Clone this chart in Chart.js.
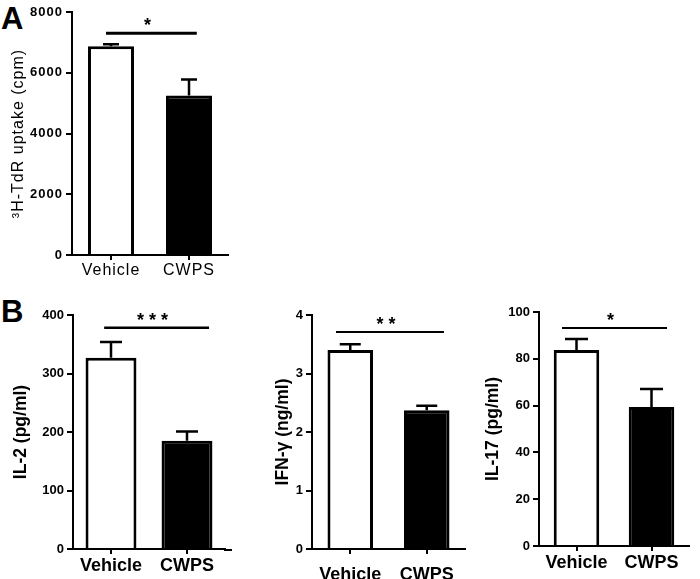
<!DOCTYPE html>
<html>
<head>
<meta charset="utf-8">
<script src="https://cdn.jsdelivr.net/npm/chart.js@4.4.0/dist/chart.umd.min.js"></script>
<style>
  body { margin: 0; background: #fff; }
  #wrap { position: relative; width: 700px; height: 579px; overflow: hidden; background: #fff; }
  canvas { position: absolute; }
  .panel-letter { position: absolute; font: bold 31px 'Liberation Sans', Arial, sans-serif; color: #000; line-height: 1; }
</style>
</head>
<body>
<div id="wrap">
  <div class="panel-letter" style="left:1px;top:3px">A</div>
  <div class="panel-letter" style="left:1px;top:296px">B</div>
  <canvas id="uptakeChart" width="240" height="290" style="left:0;top:0"></canvas>
  <canvas id="il2Chart" width="240" height="284" style="left:0;top:295px"></canvas>
  <canvas id="ifnChart" width="230" height="284" style="left:240px;top:295px"></canvas>
  <canvas id="il17Chart" width="230" height="284" style="left:470px;top:295px"></canvas>
</div>
<script>
const groups = ['Vehicle', 'CWPS'];

// A: proliferation
const uptakeMean = [6870, 5250];
const uptakeSem = [70, 530];
const uptakeTicks = [0, 2000, 4000, 6000, 8000];

// B: cytokines
const il2Mean = [327, 185];
const il2Sem = [27, 16];
const il2Ticks = [0, 100, 200, 300, 400];

const ifnMean = [3.40, 2.37];
const ifnSem = [0.10, 0.08];
const ifnTicks = [0, 1, 2, 3, 4];

const il17Mean = [83.8, 59.4];
const il17Sem = [4.7, 7.7];
const il17Ticks = [0, 20, 40, 60, 80, 100];

// significance marks and bracket heights (in data units)
const sigStars = ['*', '* * *', '* *', '*'];
const sigHeights = [7300, 378, 3.71, 93.2];

const FONT = "'Liberation Sans', Arial, sans-serif";
Chart.defaults.color = '#000';
Chart.defaults.font.family = FONT;

// error bars, significance line, optional x axis extension
const extras = {
    id: 'extras',
    beforeDraw(chart, args, opts) {
        if (opts.spacing) chart.ctx.letterSpacing = opts.spacing;
    },
    afterDatasetsDraw(chart, args, opts) {
        const ctx = chart.ctx;
        const x = chart.scales.x, y = chart.scales.y;
        const means = chart.data.datasets[0].data;
        ctx.save();
        ctx.letterSpacing = '0px';
        ctx.strokeStyle = '#000';
        ctx.lineWidth = opts.errWidth;
        chart.getDatasetMeta(0).data.forEach((bar, i) => {
            const top = y.getPixelForValue(means[i] + opts.sem[i]);
            ctx.beginPath();
            ctx.moveTo(bar.x, bar.y);
            ctx.lineTo(bar.x, top);
            ctx.moveTo(bar.x - opts.cap / 2, top);
            ctx.lineTo(bar.x + opts.cap / 2, top);
            ctx.stroke();
        });

        const sy = y.getPixelForValue(opts.sigAt);
        const x1 = x.getPixelForValue(opts.sigFrom);
        const x2 = x.getPixelForValue(opts.sigTo);
        ctx.lineWidth = opts.sigWidth;
        ctx.beginPath();
        ctx.moveTo(x1, sy);
        ctx.lineTo(x2, sy);
        ctx.stroke();

        ctx.fillStyle = '#000';
        ctx.font = 'bold 18px ' + FONT;
        ctx.textAlign = 'center';
        ctx.textBaseline = 'alphabetic';
        ctx.fillText(opts.stars, (x1 + x2) / 2 - 4, sy - 2);

        if (opts.axisEnd && opts.axisEnd > chart.chartArea.right) {
            ctx.lineWidth = 2;
            ctx.beginPath();
            ctx.moveTo(chart.chartArea.right - 1, chart.chartArea.bottom + 1);
            ctx.lineTo(opts.axisEnd, chart.chartArea.bottom + 1);
            ctx.stroke();
        }
        ctx.restore();
    }
};

function makeChart(id, cfg) {
    const ticks = cfg.ticks;
    return new Chart(document.getElementById(id), {
        type: 'bar',
        data: {
            labels: groups,
            datasets: [{
                data: cfg.mean,
                backgroundColor: ['#fff', '#000'],
                borderColor: '#000',
                borderWidth: cfg.barBorder,
                borderSkipped: 'start',
                categoryPercentage: 1,
                barPercentage: cfg.barPct
            }]
        },
        options: {
            responsive: false,
            animation: false,
            devicePixelRatio: 1,
            layout: { padding: { top: cfg.padTop, right: cfg.padRight, left: 0, bottom: 0 } },
            plugins: {
                legend: { display: false },
                tooltip: { enabled: false },
                extras: {
                    sem: cfg.sem,
                    cap: cfg.cap,
                    errWidth: cfg.errWidth,
                    sigAt: cfg.sigAt,
                    sigFrom: cfg.sigFrom,
                    sigTo: cfg.sigTo,
                    sigWidth: cfg.sigWidth,
                    stars: cfg.stars,
                    axisEnd: cfg.axisEnd,
                    spacing: cfg.spacing
                }
            },
            scales: {
                x: {
                    offset: true,
                    grid: { display: true, drawOnChartArea: false, drawTicks: true, tickLength: 5, offset: false, color: '#000', lineWidth: 2 },
                    border: { display: true, color: '#000', width: 2 },
                    ticks: { font: cfg.xFont, padding: cfg.xPad, color: '#000' },
                    afterFit: s => { s.height = cfg.xHeight; }
                },
                y: {
                    min: ticks[0],
                    max: ticks[ticks.length - 1],
                    afterBuildTicks: s => { s.ticks = ticks.map(v => ({ value: v })); },
                    grid: { display: true, drawOnChartArea: false, drawTicks: true, tickLength: 6, color: '#000', lineWidth: 2 },
                    border: { display: true, color: '#000', width: 2 },
                    ticks: { font: cfg.yFont, padding: 3, color: '#000', callback: v => String(v) },
                    title: { display: true, text: cfg.title, font: cfg.titleFont, padding: { top: cfg.titlePad, bottom: 0 }, color: '#000' },
                    afterFit: s => { s.width = cfg.yWidth; }
                }
            }
        },
        plugins: [extras]
    });
}

makeChart('uptakeChart', {
    mean: uptakeMean, sem: uptakeSem, ticks: uptakeTicks,
    title: '³H-TdR uptake (cpm)',
    titleFont: { size: 16, weight: 'normal' }, titlePad: 9,
    yFont: { size: 13, weight: 'bold' }, xFont: { size: 16, weight: 'normal' }, xPad: 1,
    yWidth: 72, xHeight: 35, padTop: 12, padRight: 12,
    barPct: 0.59, barBorder: 3, cap: 16, errWidth: 2.5,
    sigAt: sigHeights[0], sigFrom: -0.064, sigTo: 1.10, sigWidth: 3, stars: sigStars[0],
    spacing: '1px'
});

const boldTitle = { size: 17.5, weight: 'bold' };
const boldTick = { size: 13, weight: 'bold' };
const boldLabel = { size: 18, weight: 'bold' };

makeChart('il2Chart', {
    mean: il2Mean, sem: il2Sem, ticks: il2Ticks,
    title: 'IL-2 (pg/ml)', titleFont: boldTitle, titlePad: 11,
    yFont: boldTick, xFont: boldLabel, xPad: 1,
    yWidth: 73, xHeight: 30, padTop: 20, padRight: 15,
    barPct: 0.67, barBorder: 3, cap: 22, errWidth: 2.5,
    sigAt: sigHeights[1], sigFrom: -0.09, sigTo: 1.29, sigWidth: 2.5, stars: sigStars[1],
    axisEnd: 232
});

makeChart('ifnChart', {
    mean: ifnMean, sem: ifnSem, ticks: ifnTicks,
    title: 'IFN-γ (ng/ml)', titleFont: boldTitle, titlePad: 33,
    yFont: boldTick, xFont: boldLabel, xPad: 10,
    yWidth: 72, xHeight: 30, padTop: 20, padRight: 5,
    barPct: 0.595, barBorder: 3, cap: 21, errWidth: 2.5,
    sigAt: sigHeights[2], sigFrom: -0.186, sigTo: 1.225, sigWidth: 2, stars: sigStars[2]
});

makeChart('il17Chart', {
    mean: il17Mean, sem: il17Sem, ticks: il17Ticks,
    title: 'IL-17 (pg/ml)', titleFont: boldTitle, titlePad: 13,
    yFont: boldTick, xFont: boldLabel, xPad: 1,
    yWidth: 69, xHeight: 33, padTop: 17, padRight: 11,
    barPct: 0.607, barBorder: 3, cap: 23, errWidth: 2.5,
    sigAt: sigHeights[3], sigFrom: -0.193, sigTo: 1.207, sigWidth: 2, stars: sigStars[3]
});
</script>
</body>
</html>
